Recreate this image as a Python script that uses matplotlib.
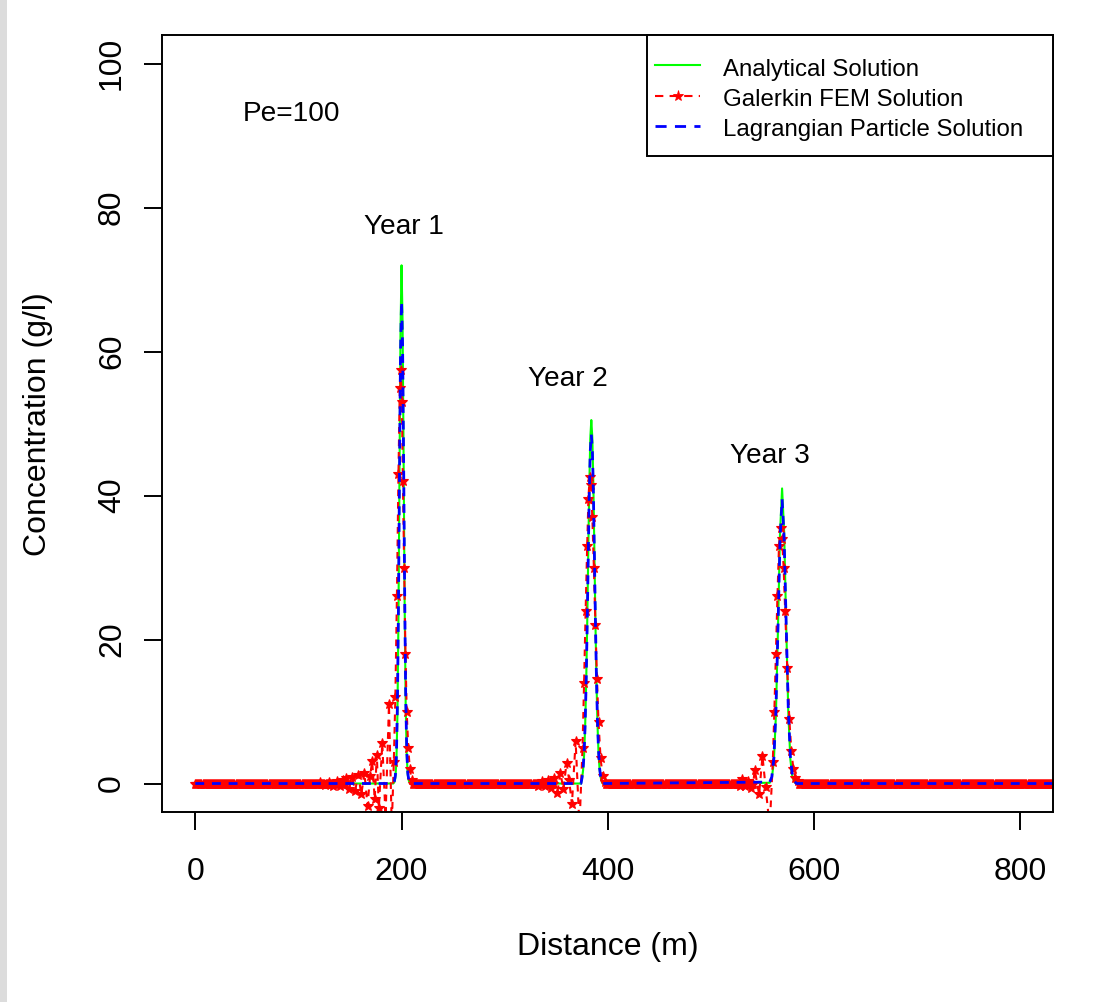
import numpy as np
import matplotlib
matplotlib.use("Agg")
import matplotlib.pyplot as plt
import matplotlib.lines as lines
import matplotlib.patches as patches

plt.rcParams["font.family"] = ["Liberation Sans", "DejaVu Sans"]

# -----------------------------------------------------------------------------
# Values (distance in m, concentration in g/l).
# -----------------------------------------------------------------------------

# analytical solution, one pulse per year
ana1_x = [192, 193, 194, 195, 196, 197, 198, 199, 200, 201, 202, 203, 204, 205, 206, 207, 208, 209]
ana1_y = [0, 0.2, 0.8, 3.0, 9.5, 23, 43, 63, 72, 64, 45, 25, 11, 4, 1.2, 0.4, 0.1, 0]
ana2_x = list(range(374, 396))
ana2_y = [0, 0.7, 1.8, 3.9, 7.7, 13.7, 21.9, 31.6, 41.0, 47.9, 50.5, 48.0, 41.5,
          32.2, 22.5, 14.3, 8.2, 4.3, 2.0, 0.9, 0.3, 0]
ana3_x = [557, 559, 561, 563, 565, 567, 569, 571, 573, 575, 577, 579, 581, 583]
ana3_y = [0.1, 0.7, 3.0, 9.4, 21.4, 34.8, 41, 35, 22, 10, 3.4, 0.9, 0.2, 0]

# Lagrangian particle solution
lag1_x = ana1_x
lag1_y = [0, 0.3, 1.1, 3.8, 11, 24.5, 43, 60, 67, 61, 45, 27, 12.5, 4.8, 1.5, 0.5, 0.1, 0]
lag2_x = ana2_x
lag2_y = [0, 0.8, 2.0, 4.2, 8.1, 14.0, 22.0, 31.2, 40.0, 46.2, 48.5, 46.5, 40.5,
          31.8, 22.6, 14.6, 8.6, 4.6, 2.2, 1.0, 0.4, 0]
lag3_x = ana3_x
lag3_y = [0.2, 0.9, 3.4, 10, 21.5, 33.8, 39.5, 34, 22, 10.5, 3.8, 1.1, 0.3, 0]

# Galerkin FEM solution near each pulse (with the upstream wiggles)
fem1_x = [146, 149, 152, 155, 158,
          161, 164, 167, 169.5, 171.5, 174, 176, 178, 181.3, 184.5, 187.8, 190.5,
          192.5, 194, 195.5, 197, 198.3, 199.3, 200.3, 201.3, 202.5, 203.8, 205,
          206.5, 208, 210]
fem1_y = [0.7, -0.7, 0.9, -1.0, 1.2,
          -1.5, 1.5, -3.1, 1.0, 3.1, -2.2, 4.0, -3.4, 5.6, -4.6, 11.0, -6.0,
          3, 12, 26, 43, 55, 57.5, 53, 42, 30, 18, 10,
          5, 2, 0.5]
fem2_x = [348, 351, 354, 357, 360, 362.5, 365.2,
          368.8, 372.5, 375.5, 377, 378.5, 380, 381.2, 382.4, 383.6, 385, 386.5,
          388, 389.5, 391, 393, 395, 397]
fem2_y = [0.7, -1.3, 1.5, -0.8, 2.9, 0.5, -2.9,
          5.9, -6.0, 5, 14, 24, 33, 39.5, 42.6, 41.5, 37, 30,
          22, 14.5, 8.5, 3.5, 1, 0.2]
fem3_x = [542.5, 546.7, 550, 553, 557, 560,
          561.5, 563, 564.5, 566, 567.5, 569, 570.5, 572, 574, 576, 578, 580,
          582, 584]
fem3_y = [1.9, -1.5, 3.8, -0.5, -6.0, 3,
          10, 18, 26, 33, 35.5, 34, 30, 24, 16, 9, 4.5, 2,
          0.8, 0.3]
# small wiggles further upstream
wig_x = [121, 126, 130, 134, 137, 140, 143, 332, 336, 339, 342, 345, 528, 530, 533, 536, 539]
wig_y = [0.15, -0.2, 0.25, -0.3, 0.4, -0.4, 0.5, -0.3, 0.4, -0.4, 0.5, -0.6, -0.3, 0.6, -0.3, 0.4, -0.6]

# FEM mesh nodes away from the pulses, where the FEM solution reads zero
fem_nodes = np.arange(0, 1001, 1.0)

x_end = 1000

xticks = [0, 200, 400, 600, 800]
yticks = [0, 20, 40, 60, 80, 100]

labels = ["Analytical Solution", "Galerkin FEM Solution", "Lagrangian Particle Solution"]
notes = [("Pe=100", 93.4, 92.1), ("Year 1", 202.2, 76.3),
         ("Year 2", 360.8, 55.2), ("Year 3", 557.0, 44.5)]

# -----------------------------------------------------------------------------
# Assemble the full series.
# -----------------------------------------------------------------------------

def joinPulses(pulses):
    xs, ys = [0], [0]
    for px, py in pulses:
        xs += list(px)
        ys += list(py)
    xs.append(x_end)
    ys.append(0)
    return np.array(xs, float), np.array(ys, float)

ana_x, ana_y = joinPulses([(ana1_x, ana1_y), (ana2_x, ana2_y), (ana3_x, ana3_y)])
lag_x, lag_y = joinPulses([(lag1_x, lag1_y), (lag2_x, lag2_y), (lag3_x, lag3_y)])

windows = [(fem1_x, fem1_y), (fem2_x, fem2_y), (fem3_x, fem3_y)]
keep = np.ones(len(fem_nodes), bool)
for wx, _ in windows:
    keep &= ~((fem_nodes >= wx[0] - 0.5) & (fem_nodes <= wx[-1] + 0.5))
for wx in wig_x:
    keep &= np.abs(fem_nodes - wx) > 0.6
fem_x = list(fem_nodes[keep]) + list(wig_x)
fem_y = [0.0] * int(keep.sum()) + list(wig_y)
for wx, wy in windows:
    fem_x += list(wx)
    fem_y += list(wy)
order = np.argsort(fem_x)
fem_x = np.array(fem_x)[order]
fem_y = np.array(fem_y)[order]

# -----------------------------------------------------------------------------
# Plot.
# -----------------------------------------------------------------------------

W, H = 1120, 1002
fig = plt.figure(figsize=(W / 100, H / 100), dpi=100)
fig.patches.append(patches.Rectangle((0, 0), 7 / W, 1, transform=fig.transFigure,
                                     facecolor="#dcdcdc", edgecolor="none"))

left, right, top, bottom = 162.3, 1053.3, 35.0, 812.3
ax = fig.add_axes([left / W, 1 - bottom / H, (right - left) / W, (bottom - top) / H])

green, red, blue = "#00ff00", "#ff0000", "#0000ff"
dash = (0, (3.2, 2.8))

ax.plot(ana_x, ana_y, color=green, lw=1.5)
ax.plot(fem_x, fem_y, color=red, lw=1.5, ls=dash, marker="*", ms=7, mew=0.8)
ax.plot(lag_x, lag_y, color=blue, lw=2.0, ls=dash)

for text, tx, ty in notes:
    ax.text(tx, ty, text, fontsize=20.2, ha="center", va="baseline")

ax.set_xlim(-32, 832)
ax.set_ylim(-4, 104)
ax.set_xticks(xticks)
ax.set_yticks(yticks)
ax.tick_params(length=13, width=1.4, labelsize=23)
ax.tick_params(axis="x", pad=19.4)
ax.tick_params(axis="y", pad=12.4)
for lab in ax.get_yticklabels():
    lab.set_rotation(90)
    lab.set_va("center")
    lab.set_ha("right")
    lab.set_rotation_mode("default")
for sp in ax.spines.values():
    sp.set_linewidth(1.4)

ax.set_xlabel("Distance (m)", fontsize=23)
ax.set_ylabel("Concentration (g/l)", fontsize=23)
ax.xaxis.set_label_coords(0.5, (bottom - 932.5) / (bottom - top))
ax.yaxis.set_label_coords((53.3 - left) / (right - left), 0.5)

# legend, framed by hand so the padding matches
handles = [
    lines.Line2D([], [], color=green, lw=1.5),
    lines.Line2D([], [], color=red, lw=1.5, ls=(0, (4, 3)), marker="*", ms=8, mew=0.6),
    lines.Line2D([], [], color=blue, lw=2.0, ls=(0, (4, 3))),
]
leg = ax.legend(handles, labels, loc="upper left", frameon=False,
                bbox_to_anchor=((655 - left) / (right - left), (bottom - 55) / (bottom - top)),
                borderaxespad=0, borderpad=0, fontsize=17.3,
                handlelength=1.875, handletextpad=0.96,
                handleheight=1.25, labelspacing=0.19)
ax.add_patch(patches.Rectangle(((647 - left) / (right - left), (bottom - 156) / (bottom - top)),
                               1 - (647 - left) / (right - left), (156 - top) / (bottom - top),
                               transform=ax.transAxes, facecolor="white", edgecolor="black",
                               lw=1.4, zorder=4, clip_on=False))
leg.set_zorder(5)

fig.savefig("out.png", dpi=100)
